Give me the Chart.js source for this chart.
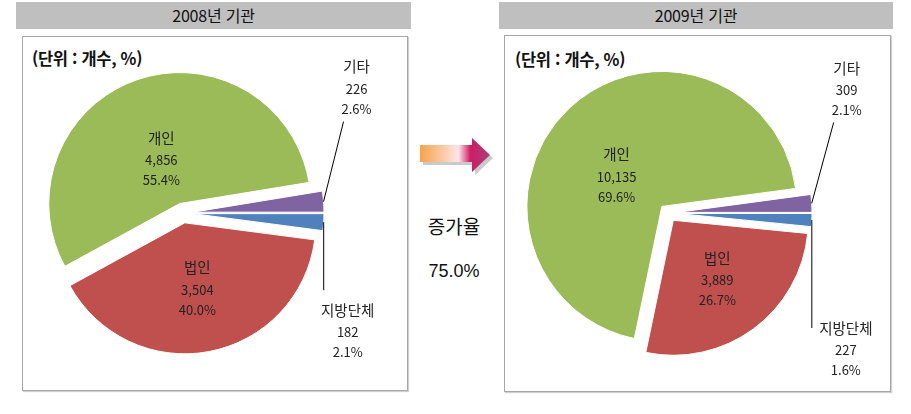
<!DOCTYPE html>
<html lang="ko">
<head>
<meta charset="utf-8">
<script src="https://cdn.jsdelivr.net/npm/chart.js@4.4.1/dist/chart.umd.min.js"></script>
<style>
  body { margin: 0; width: 911px; height: 414px; background: #fff; position: relative; overflow: hidden;
         font-family: "Noto Sans CJK KR", "Noto Sans", sans-serif; }
  .head { position: absolute; height: 27px; background: #bfbfbf; text-align: center;
          line-height: 27px; font-size: 16px; color: #111; letter-spacing: -0.2px; }
  .frame { position: absolute; border: 1px solid #a6a6a6; box-shadow: 1px 1px 1px #d0d0d0; }
  .unit { position: absolute; font-size: 16.5px; font-weight: bold; color: #111; letter-spacing: -0.3px; }
  canvas { position: absolute; }
  .rate { position: absolute; width: 80px; text-align: center; color: #111; }
</style>
</head>
<body>
<div class="head" style="left:16px; top:2px; width:395px;">2008년 기관</div>
<div class="head" style="left:499px; top:2px; width:394px;">2009년 기관</div>
<div class="frame" style="left:22px; top:36px; width:384px; height:353px;"></div>
<div class="frame" style="left:504px; top:35px; width:385px; height:355px;"></div>
<div class="unit" style="left:32px; top:46px;">(단위 : 개수, %)</div>
<div class="unit" style="left:515px; top:47px;">(단위 : 개수, %)</div>
<canvas id="pie2008" width="385" height="354" style="left:22px; top:36px;"></canvas>
<canvas id="pie2009" width="386" height="356" style="left:504px; top:35px;"></canvas>

<svg style="position:absolute; left:414px; top:134px;" width="84" height="46">
  <defs>
    <linearGradient id="arrowGrad" x1="0" x2="1" y1="0" y2="0">
      <stop offset="0" stop-color="#f7a24a"/>
      <stop offset="0.55" stop-color="#fde6e6"/>
      <stop offset="0.72" stop-color="#d01c63"/>
      <stop offset="1" stop-color="#a8407e"/>
    </linearGradient>
  </defs>
  <polygon points="9,14 61,14 61,7 79,24 61,41 61,31 9,31" fill="#bdbdbd" opacity="0.8"/>
  <polygon points="6,11 58,11 58,4 76,21 58,38 58,28 6,28" fill="url(#arrowGrad)"/>
</svg>
<div class="rate" style="left:414px; top:212px; font-size:19px;">증가율</div>
<div class="rate" id="rateValue" style="left:414px; top:261px; font-size:18px; font-family:'Liberation Sans', Arial, sans-serif;"></div>

<script>
// --- Data ---
const categories = ['지방단체', '법인', '개인', '기타'];
const counts2008 = [182, 3504, 4856, 226];
const counts2009 = [227, 3889, 10135, 309];
const growthRate = '75.0%';
const sliceColors = ['#4f81bd', '#c0504d', '#9bbb59', '#8064a2'];

document.getElementById('rateValue').textContent = growthRate;

// --- Explode every slice outward like the Excel chart (pure shift, radius unchanged) ---
const explodeSlices = {
    id: 'explodeSlices',
    afterDatasetUpdate(chart, args) {
        const d = chart.options.plugins.explodeSlices.distance;
        args.meta.data.forEach(arc => {
            const mid = (arc.startAngle + arc.endAngle) / 2;
            arc.x += Math.cos(mid) * d;
            arc.y += Math.sin(mid) * d;
        });
    }
};

// --- Label plugin: names, counts and shares for each slice ---
const sliceLabels = {
    id: 'sliceLabels',
    afterDatasetsDraw(chart) {
        const cfg = chart.options.plugins.sliceLabels;
        const ctx = chart.ctx;
        const counts = chart.data.datasets[0].data;
        const total = counts.reduce((a, b) => a + b, 0);
        const meta = chart.getDatasetMeta(0);
        ctx.save();
        ctx.textAlign = 'center';
        ctx.textBaseline = 'middle';
        ctx.fillStyle = '#222';
        meta.data.forEach((arc, i) => {
            const p = arc.getProps(['x', 'y', 'startAngle', 'endAngle', 'outerRadius'], true);
            const mid = (p.startAngle + p.endAngle) / 2;
            const r = p.outerRadius;
            const lines = [
                chart.data.labels[i],
                counts[i].toLocaleString('en-US'),
                (counts[i] / total * 100).toFixed(1) + '%'
            ];
            const place = cfg.place[i];
            let tx, ty;
            if (place.inside) {
                const a = mid + place.da * Math.PI / 180;
                tx = p.x + Math.cos(a) * r * place.k;
                ty = p.y + Math.sin(a) * r * place.k;
            } else {
                const ax = p.x + Math.cos(mid) * r;
                const ay = p.y + Math.sin(mid) * r;
                ctx.strokeStyle = '#000';
                ctx.lineWidth = 1;
                ctx.beginPath();
                ctx.moveTo(ax, ay);
                ctx.lineTo(ax + place.lineDx, ay + place.lineDy);
                ctx.stroke();
                tx = ax + place.dx;
                ty = ay + place.dy;
            }
            ctx.font = '14.5px "Noto Sans CJK KR"';
            ctx.fillText(lines[0], tx, ty - 22);
            ctx.font = '13px "Noto Sans CJK KR"';
            ctx.fillText(lines[1], tx, ty);
            ctx.fillText(lines[2], tx, ty + 20);
        });
        ctx.restore();
    }
};

function createPie(id, counts, radius, explode, padRight, place) {
    new Chart(document.getElementById(id), {
        type: 'pie',
        data: {
            labels: categories,
            datasets: [{
                data: counts,
                backgroundColor: sliceColors,
                borderColor: '#ffffff',
                borderWidth: 1,
                radius: radius
            }]
        },
        options: {
            responsive: false,
            animation: false,
            events: [],
            rotation: 90,
            radius: radius,
            layout: { padding: { left: 0, right: padRight, top: 0, bottom: 0 } },
            plugins: {
                legend: { display: false },
                tooltip: { enabled: false },
                explodeSlices: { distance: explode },
                sliceLabels: { place: place }
            }
        },
        plugins: [explodeSlices, sliceLabels]
    });
}

createPie('pie2008', counts2008, 131, 10, 63, [
    { inside: false, dx: 24, dy: 110, lineDx: 0, lineDy: 68 },
    { inside: true, k: 0.52, da: 0 },
    { inside: true, k: 0.36, da: -4 },
    { inside: false, dx: 33, dy: -113, lineDx: 20, lineDy: -80 }
]);
createPie('pie2009', counts2009, 135, 9, 58, [
    { inside: false, dx: 34, dy: 130, lineDx: 0, lineDy: 108 },
    { inside: true, k: 0.55, da: 0 },
    { inside: true, k: 0.4, da: -14 },
    { inside: false, dx: 35, dy: -113, lineDx: 22, lineDy: -81 }
]);
</script>
</body>
</html>
